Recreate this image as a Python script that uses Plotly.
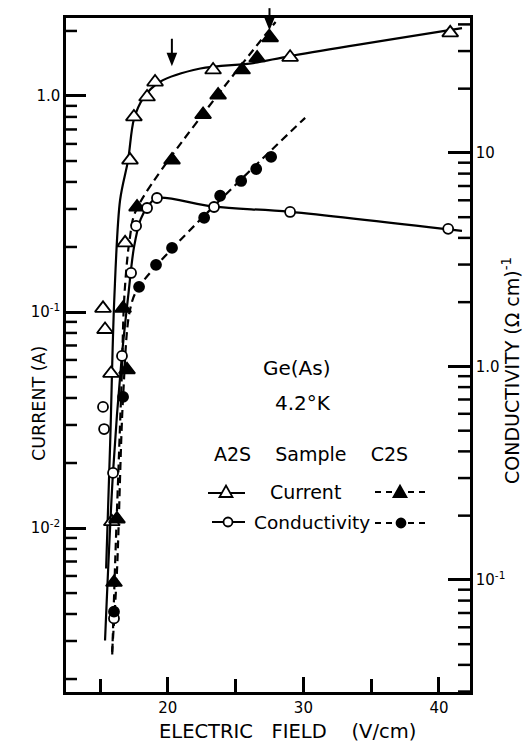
import math
import plotly.graph_objects as go

# ---------------- data ----------------
# Sample A2S, current (open triangles), left axis
field_a_cur = [15.22, 15.37, 15.81, 15.87, 16.85, 17.21, 17.50, 18.47, 19.06, 23.34, 29.02, 40.83]
current_a = [0.104, 0.083, 0.052, 0.0107, 0.209, 0.505, 0.80, 0.99, 1.16, 1.32, 1.51, 1.96]

# Sample C2S, current (solid triangles), left axis
field_c_cur = [16.03, 16.25, 16.99, 16.70, 17.73, 20.31, 22.60, 23.71, 25.48, 26.59, 27.55]
current_c = [0.0056, 0.011, 0.054, 0.104, 0.306, 0.505, 0.82, 1.01, 1.32, 1.50, 1.86]

# Sample A2S, conductivity (open circles), right axis
field_a_cond = [16.03, 15.96, 15.30, 15.22, 16.62, 17.29, 17.66, 18.47, 19.20, 23.41, 29.02, 40.68]
cond_a = [0.066, 0.317, 0.509, 0.646, 1.12, 2.74, 4.55, 5.52, 6.15, 5.58, 5.29, 4.41]

# Sample C2S, conductivity (solid circles), right axis
field_c_cond = [16.03, 16.70, 17.88, 19.13, 20.31, 22.68, 23.86, 25.41, 26.52, 27.62]
cond_c = [0.071, 0.72, 2.36, 2.99, 3.59, 4.97, 6.30, 7.39, 8.41, 9.58]

# Hand-drawn guide curves (knots)
curve_a_cur_x = [15.45, 15.75, 16.05, 16.48, 17.07, 17.5, 18.2, 19.4, 22.4, 26.3, 29.0, 41.7]
curve_a_cur_y = [0.0065, 0.025, 0.114, 0.33, 0.505, 0.78, 0.98, 1.16, 1.34, 1.42, 1.53, 2.06]

curve_a_cond_x = [15.37, 15.96, 16.6, 17.1, 17.5, 18.0, 18.6, 19.2, 23.4, 29.0, 41.7]
curve_a_cond_y = [0.052, 0.32, 1.1, 2.2, 3.6, 4.9, 5.7, 6.15, 5.6, 5.3, 4.31]

curve_c_cur_x = [15.9, 16.15, 16.4, 16.6, 16.8, 17.2, 17.7, 27.95]
curve_c_cur_y = [0.0026, 0.008, 0.022, 0.05, 0.12, 0.22, 0.30, 2.2]

curve_c_cond_x = [15.89, 16.25, 16.7, 17.21, 17.88, 30.13]
curve_c_cond_y = [0.046, 0.11, 0.72, 1.84, 2.36, 14.6]

# arrows marking the break points (field, current at arrow tip)
arrow_field = [20.3, 27.5]
arrow_tip_current = [1.41, 2.06]
arrow_len_px = [25, 20]

left_ticks = [0.01, 0.1, 1.0]
left_ticktext = ["10<sup>-2</sup>", "10<sup>-1</sup>", "1.0"]
right_ticks = [0.1, 1.0, 10.0]
right_ticktext = ["10<sup>-1</sup>", "1.0", "10"]

# ---------------- figure ----------------
W, H = 523, 742
L, R, T, B = 66, 470, 18, 692
FONT = "DejaVu Sans"
X_RANGE = [12.49, 42.29]
LEFT_RANGE = [-2.759, 0.361]
RIGHT_RANGE = [-1.525, 1.632]
TW = 2.5  # tick / frame width

fig = go.Figure()


def line(x, y, axis, dash):
    fig.add_trace(go.Scatter(
        x=x, y=y, yaxis=axis, mode="lines", hoverinfo="skip", showlegend=False,
        line=dict(color="black", width=2.2, dash=dash, shape="spline", smoothing=0.9)))


def pts(x, y, axis, symbol, size, fill):
    fig.add_trace(go.Scatter(
        x=x, y=y, yaxis=axis, mode="markers", hoverinfo="skip", showlegend=False,
        marker=dict(symbol=symbol, size=size, color=fill,
                    line=dict(color="black", width=1.8))))


line(curve_a_cur_x, curve_a_cur_y, "y", "solid")
line(curve_a_cond_x, curve_a_cond_y, "y2", "solid")
line(curve_c_cur_x, curve_c_cur_y, "y", "8px,5px")
line(curve_c_cond_x, curve_c_cond_y, "y2", "8px,5px")

pts(field_a_cur, current_a, "y", "triangle-up", 14, "white")
pts(field_c_cur, current_c, "y", "triangle-up", 14, "black")
pts(field_a_cond, cond_a, "y2", "circle", 10, "white")
pts(field_c_cond, cond_c, "y2", "circle", 10, "black")

tickfont = dict(family=FONT, size=15, color="black")
base = dict(showgrid=False, zeroline=False, linecolor="black", ticks="inside",
            tickcolor="black", tickfont=tickfont)

fig.update_layout(
    width=W, height=H,
    margin=dict(l=L, r=W - R, t=T, b=H - B),
    paper_bgcolor="white", plot_bgcolor="white",
    xaxis=dict(range=X_RANGE, tickmode="linear", tick0=0, dtick=10,
               ticklen=15, tickwidth=TW, showline=True, linewidth=TW, mirror=True,
               minor=dict(tick0=0, dtick=5, ticks="inside", ticklen=13,
                          tickwidth=TW, tickcolor="black"),
               **base),
    yaxis=dict(type="log", range=LEFT_RANGE, tickmode="array",
               tickvals=left_ticks, ticktext=left_ticktext, ticklen=20,
               tickwidth=TW, showline=True, linewidth=TW, **base),
    yaxis2=dict(type="log", range=RIGHT_RANGE, overlaying="y", side="right",
                anchor="x", tickmode="array", tickvals=right_ticks,
                ticktext=right_ticktext, ticklen=22, tickwidth=TW,
                showline=True, linewidth=TW, **base),
)


def px(x):
    return (x - L) / (R - L)


def py(y):
    return (B - y) / (B - T)


# minor log ticks (2..9 in each decade), drawn as inside tick marks
def minor_ticks(rng, lo_exp, hi_exp, side, length):
    lo, hi = rng
    for e in range(lo_exp, hi_exp + 1):
        for k in range(2, 10):
            lv = math.log10(k) + e
            if lo < lv < hi:
                yp = (lv - lo) / (hi - lo)
                if side == "left":
                    x0, x1 = 0.0, length / (R - L)
                else:
                    x0, x1 = 1.0 - length / (R - L), 1.0
                fig.add_shape(type="line", xref="paper", yref="paper", layer="above",
                              x0=x0, x1=x1, y0=yp, y1=yp,
                              line=dict(color="black", width=TW))


minor_ticks(LEFT_RANGE, -3, 0, "left", 11)
minor_ticks(RIGHT_RANGE, -2, 1, "right", 12)


def text(s, x, y, size=16, angle=0):
    fig.add_annotation(text=s, x=px(x), y=py(y), xref="paper", yref="paper",
                       showarrow=False, textangle=angle, xanchor="center", yanchor="middle",
                       font=dict(family=FONT, size=size, color="black"))


# axis titles
text("CURRENT (A)", 39, 404, 17.5, -90)
text("CONDUCTIVITY (Ω cm)<sup>-1</sup>", 511, 371, 19, -90)
text("ELECTRIC   FIELD    (V/cm)", 287, 731, 19.5)

# inset texts
text("Ge(As)", 297, 368, 20)
text("4.2°K", 303, 403, 20)
text("A2S    Sample    C2S", 311, 454, 19)
text("Current", 305, 492, 19)
text("Conductivity", 312, 522, 18.5)


# legend keys
def seg(x0, x1, y, dash="solid"):
    fig.add_shape(type="line", xref="paper", yref="paper", x0=px(x0), x1=px(x1),
                  y0=py(y), y1=py(y), line=dict(color="black", width=2.2, dash=dash))


def tri(cx, cy, fill, half=6.5, up=True):
    if up:
        path = (f"M {px(cx - half)} {py(cy + 5)} L {px(cx + half)} {py(cy + 5)} "
                f"L {px(cx)} {py(cy - 6.5)} Z")
    else:
        path = (f"M {px(cx - half)} {py(cy - 5)} L {px(cx + half)} {py(cy - 5)} "
                f"L {px(cx)} {py(cy + 5)} Z")
    fig.add_shape(type="path", xref="paper", yref="paper", path=path,
                  fillcolor=fill, line=dict(color="black", width=1.8))


def circ(cx, cy, r, fill):
    fig.add_shape(type="circle", xref="paper", yref="paper",
                  x0=px(cx - r), x1=px(cx + r), y0=py(cy + r), y1=py(cy - r),
                  fillcolor=fill, line=dict(color="black", width=1.8))


seg(208, 245, 493)
tri(226, 492, "white")
seg(212, 245, 522)
circ(228, 522, 4.5, "white")
seg(375, 428, 492, "6px,5px")
tri(400, 492, "black")
seg(375, 430, 523, "6px,5px")
circ(401, 523, 4.5, "black")

# arrows (positioned from the axis scales)
for xf, yc, ln in zip(arrow_field, arrow_tip_current, arrow_len_px):
    xp = L + (xf - X_RANGE[0]) / (X_RANGE[1] - X_RANGE[0]) * (R - L)
    yp = B - (math.log10(yc) - LEFT_RANGE[0]) / (LEFT_RANGE[1] - LEFT_RANGE[0]) * (B - T)
    fig.add_shape(type="line", xref="paper", yref="paper",
                  x0=px(xp), x1=px(xp), y0=py(yp - ln), y1=py(yp - 6),
                  line=dict(color="black", width=2))
    tri(xp, yp - 5, "black", half=4, up=False)

fig.write_html("out.html")
